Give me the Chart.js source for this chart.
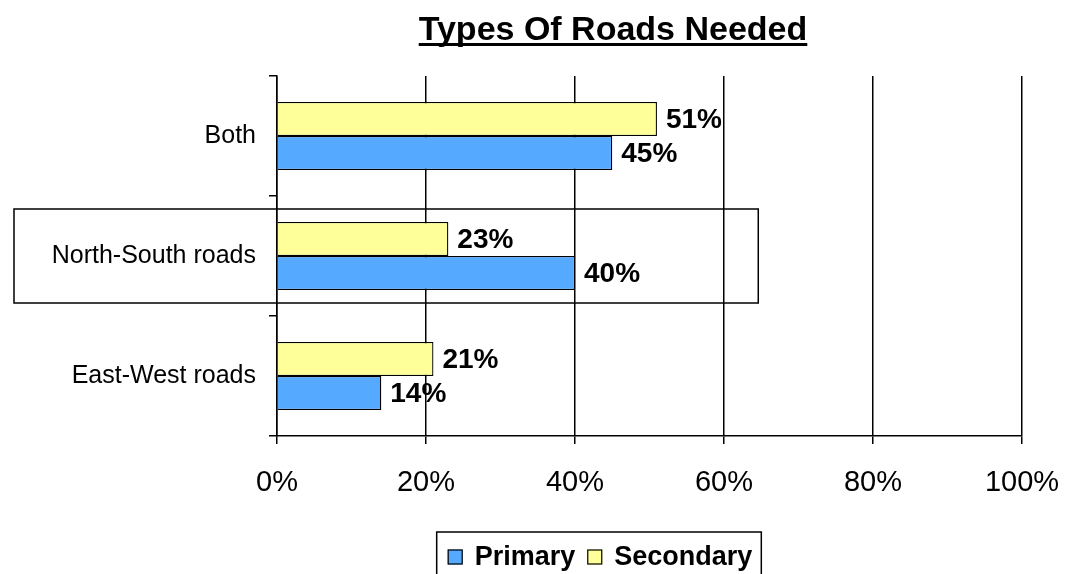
<!DOCTYPE html>
<html><head><meta charset="utf-8">
<script src="https://cdn.jsdelivr.net/npm/chart.js@4.4.0/dist/chart.umd.min.js"></script>
<style>html,body{margin:0;padding:0;background:#fff;overflow:hidden;width:1065px;height:574px}</style></head>
<body><canvas id="c" width="1065" height="574"></canvas>
<script>
const categories = ['Both', 'North-South roads', 'East-West roads'];
const primaryValues = [45, 40, 14];
const secondaryValues = [51, 23, 21];
const xTickValues = [0, 20, 40, 60, 80, 100];
const chartTitle = 'Types Of Roads Needed';
const seriesNames = ['Primary', 'Secondary'];

const FONT = '"Liberation Sans", Arial, Helvetica, sans-serif';
const BLUE = '#55AAFF';
const YELLOW = '#FFFF99';

const titlePlugin = {
  id: 'ulTitle',
  afterDraw(chart) {
    const ctx = chart.ctx;
    ctx.save();
    ctx.font = 'bold 34px ' + FONT;
    ctx.fillStyle = '#000';
    ctx.textAlign = 'center';
    ctx.textBaseline = 'alphabetic';
    const cx = 613, by = 40;
    ctx.fillText(chartTitle, cx, by);
    const w = ctx.measureText(chartTitle).width;
    ctx.fillRect(cx - w / 2, by + 3, w, 3);
    ctx.restore();
  }
};

const valueLabels = {
  id: 'valueLabels',
  afterDatasetsDraw(chart) {
    const ctx = chart.ctx;
    ctx.save();
    ctx.font = 'bold 28px ' + FONT;
    ctx.fillStyle = '#000';
    ctx.textAlign = 'left';
    ctx.textBaseline = 'middle';
    chart.data.datasets.forEach((ds, i) => {
      chart.getDatasetMeta(i).data.forEach((bar, j) => {
        ctx.fillText(ds.data[j] + '%', bar.x + 9, bar.y + 1);
      });
    });
    ctx.restore();
  }
};

const boxPlugin = {
  id: 'rowBox',
  afterDraw(chart) {
    const ctx = chart.ctx;
    const ys = chart.scales.y, xs = chart.scales.x;
    const cy = ys.getPixelForValue(1);
    ctx.save();
    ctx.strokeStyle = '#000';
    ctx.lineWidth = 1.5;
    ctx.strokeRect(14, cy - 47, xs.getPixelForValue(64.6) - 14, 94);
    ctx.restore();
  }
};

const legendPlugin = {
  id: 'customLegend',
  afterDraw(chart) {
    const ctx = chart.ctx;
    ctx.save();
    ctx.font = 'bold 27px ' + FONT;
    const order = [1, 0]; // Primary, Secondary
    const box = 15, gap = 12, sp = 12;
    let total = 0;
    const items = order.map(i => {
      const ds = chart.data.datasets[i];
      const tw = ctx.measureText(ds.label).width;
      return { ds, tw };
    });
    items.forEach((it, k) => { total += box + gap + it.tw + (k ? sp : 0); });
    let x = 600 - total / 2;
    const cy = 557;
    ctx.strokeStyle = '#000';
    ctx.lineWidth = 1.5;
    ctx.strokeRect(x - 11, 532, total + 20, 60);
    items.forEach(it => {
      ctx.fillStyle = it.ds.backgroundColor;
      ctx.fillRect(x, cy - 7.5, box, box);
      ctx.lineWidth = 1.2;
      ctx.strokeRect(x + 0.5, cy - 7, box - 1, box - 1);
      ctx.fillStyle = '#000';
      ctx.textBaseline = 'middle';
      ctx.textAlign = 'left';
      ctx.fillText(it.ds.label, x + box + gap, cy + 1);
      x += box + gap + it.tw + sp;
    });
    ctx.restore();
  }
};

new Chart(document.getElementById('c'), {
  type: 'bar',
  data: {
    labels: categories,
    datasets: [
      { label: seriesNames[1], data: secondaryValues, backgroundColor: YELLOW, borderColor: '#000', borderWidth: 1.3 },
      { label: seriesNames[0], data: primaryValues, backgroundColor: BLUE, borderColor: '#000', borderWidth: 1.3 }
    ]
  },
  options: {
    indexAxis: 'y',
    responsive: false,
    animation: false,
    events: [],
    layout: { padding: { top: 76, right: 43, bottom: 68, left: 0 } },
    datasets: { bar: { categoryPercentage: 0.567, barPercentage: 1 } },
    plugins: { legend: { display: false }, title: { display: false }, tooltip: { enabled: false } },
    scales: {
      x: {
        min: 0, max: 100,
        afterBuildTicks(s) { s.ticks = xTickValues.map(v => ({ value: v })); },
        afterFit(s) { s.height = 70; s.paddingLeft = 0; s.paddingRight = 0; },
        grid: { color: '#000', lineWidth: 1.5, tickLength: 8, drawTicks: true },
        border: { color: '#000', width: 1.5 },
        ticks: { color: '#000', font: { family: FONT, size: 29 }, padding: 22, callback: v => v + '%' }
      },
      y: {
        afterFit(s) { s.width = 277; s.paddingTop = 0; s.paddingBottom = 0; },
        grid: { drawOnChartArea: false, drawTicks: true, tickLength: 8, color: '#000', lineWidth: 1.5 },
        border: { color: '#000', width: 1.5 },
        ticks: { color: '#000', font: { family: FONT, size: 25 }, padding: 13 }
      }
    }
  },
  plugins: [titlePlugin, valueLabels, boxPlugin, legendPlugin]
});
</script>
</body></html>
